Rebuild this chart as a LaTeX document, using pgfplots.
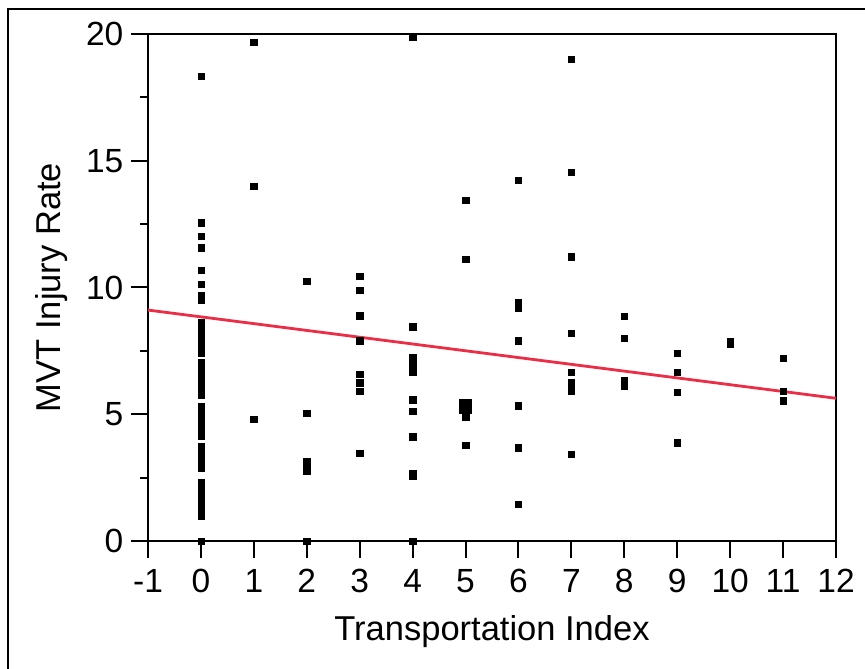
\documentclass[border=0pt]{standalone}
\usepackage{fontspec}
\setmainfont{Liberation Sans}
\usepackage{pgfplots}
\pgfplotsset{compat=1.18}
\definecolor{fitred}{RGB}{235,45,70}
\begin{document}
\fontsize{33bp}{38bp}\selectfont
\begin{tikzpicture}
\useasboundingbox (0,0) rectangle (865bp,669bp);
\draw[line width=2.2bp] (8bp,-5bp) -- (8bp,660bp) -- (870bp,660bp);
\begin{axis}[
  at={(148bp,128bp)}, anchor=south west,
  scale only axis, width=688bp, height=507bp,
  xmin=-1, xmax=12, ymin=0, ymax=20,
  xtick={-1,0,...,12}, ytick={0,5,10,15,20},
  minor ytick={2.5,7.5,12.5,17.5},
  tick align=outside, xtick pos=bottom, ytick pos=left,
  major tick length=17bp, minor tick length=8bp,
  every tick/.style={black, line width=2bp},
  axis line style={line width=2.8bp},
  /pgf/number format/assume math mode=true,
  ticklabel style={font=\fontsize{33.5bp}{38bp}\selectfont},
  yticklabel style={anchor=east, inner sep=0pt, xshift=-7.5bp},
  xticklabel style={anchor=north, inner sep=0pt, yshift=-11bp},
  xlabel={Transportation Index},
  ylabel={MVT Injury Rate},
  label style={font=\fontsize{34.5bp}{40bp}\selectfont},
  xlabel style={at={(axis description cs:0.5,0)}, anchor=center, yshift=-91bp},
  ylabel style={at={(axis description cs:0,0.5)}, anchor=center, yshift=96bp},
  clip=true,
]
\addplot[only marks, mark=square*, mark size=3.2bp, black] coordinates {
(0,18.34) (0,12.56) (0,12.03) (0,11.57) (0,10.68) (0,10.14) (0,9.7) (0,9.52)
(0,8.62) (0,8.45) (0,8.28) (0,8.1) (0,7.95) (0,7.75) (0,7.55) (0,7.4)
(0,7.05) (0,6.9) (0,6.75) (0,6.6) (0,6.45) (0,6.3) (0,6.15) (0,6.0) (0,5.76)
(0,5.3) (0,5.15) (0,5.0) (0,4.85) (0,4.7) (0,4.55) (0,4.4) (0,4.14)
(0,3.75) (0,3.6) (0,3.45) (0,3.3) (0,3.15) (0,3.0) (0,2.87)
(0,2.3) (0,2.15) (0,2.0) (0,1.85) (0,1.7) (0,1.55) (0,1.4) (0,1.25) (0,1.0) (0,0.0)
(1,19.67) (1,14.0) (1,4.8)
(2,10.24) (2,5.03) (2,3.15) (2,2.95) (2,2.78) (2,0.0)
(3,10.45) (3,9.9) (3,8.89) (3,7.9) (3,6.57) (3,6.25) (3,5.92) (3,3.46)
(4,19.9) (4,8.45) (4,7.25) (4,7.1) (4,6.96) (4,6.68) (4,5.58) (4,5.13) (4,4.12) (4,2.66) (4,2.56) (4,0.0)
(5,13.45) (5,11.12) (4.95,5.45) (5.05,5.45) (4.95,5.3) (5.05,5.3) (4.95,5.15) (5.05,5.15) (5,4.9) (5,3.79)
(6,14.24) (6,9.42) (6,9.2) (6,7.9) (6,5.34) (6,3.68) (6,1.46)
(7,19.01) (7,14.56) (7,11.21) (7,8.2) (7,6.65) (7,6.25) (7,6.08) (7,5.92) (7,3.43)
(8,8.87) (8,7.99) (8,6.32) (8,6.12)
(9,7.42) (9,6.65) (9,5.87) (9,3.87)
(10,7.86) (10,7.77)
(11,7.21) (11,5.91) (11,5.54)
};
\addplot[fitred, line width=2.8bp] coordinates {(-1,9.11) (12,5.63)};
\end{axis}
\end{tikzpicture}
\end{document}
